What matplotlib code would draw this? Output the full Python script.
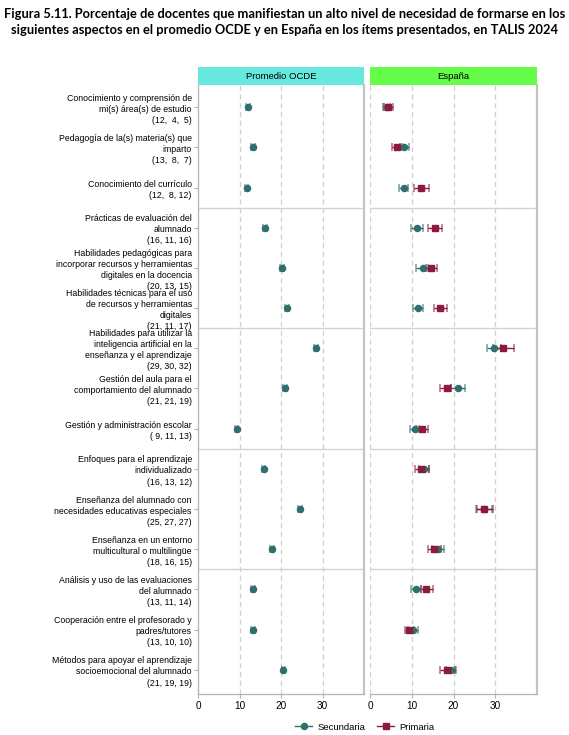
import matplotlib
matplotlib.use("Agg")
import matplotlib.pyplot as plt
from matplotlib.lines import Line2D
import numpy as np

# items (top to bottom) and the numbers shown under each label
items = [
    "Conocimiento y comprensión de\nmi(s) área(s) de estudio",
    "Pedagogía de la(s) materia(s) que\nimparto",
    "Conocimiento del currículo",
    "Prácticas de evaluación del\nalumnado",
    "Habilidades pedagógicas para\nincorporar recursos y herramientas\ndigitales en la docencia",
    "Habilidades técnicas para el uso\nde recursos y herramientas\ndigitales",
    "Habilidades para utilizar la\ninteligencia artificial en la\nenseñanza y el aprendizaje",
    "Gestión del aula para el\ncomportamiento del alumnado",
    "Gestión y administración escolar",
    "Enfoques para el aprendizaje\nindividualizado",
    "Enseñanza del alumnado con\nnecesidades educativas especiales",
    "Enseñanza en un entorno\nmulticultural o multilingüe",
    "Análisis y uso de las evaluaciones\ndel alumnado",
    "Cooperación entre el profesorado y\npadres/tutores",
    "Métodos para apoyar el aprendizaje\nsocioemocional del alumnado",
]
counts_a = [12, 13, 12, 16, 20, 21, 29, 21, 9, 16, 25, 18, 13, 13, 21]
counts_b = [4, 8, 8, 11, 13, 11, 30, 21, 11, 13, 27, 16, 11, 10, 19]
counts_c = [5, 7, 12, 16, 15, 17, 32, 19, 13, 12, 27, 15, 14, 10, 19]

# Promedio OCDE - secundaria only
ocde_sec = [12.0, 13.2, 11.7, 16.2, 20.2, 21.4, 28.5, 21.0, 9.3, 15.8, 24.5, 17.9, 13.2, 13.3, 20.6]
ocde_err = [0.45] * 15

# España
esp_sec = [4.0, 8.2, 8.1, 11.3, 12.6, 11.5, 29.7, 21.0, 10.7, 13.0, 27.3, 16.4, 11.0, 10.2, 19.3]
esp_sec_lo = [3.2, 7.1, 7.0, 9.9, 11.0, 10.2, 28.0, 19.3, 9.7, 11.7, 25.5, 14.9, 9.9, 9.1, 18.2]
esp_sec_hi = [4.8, 9.4, 9.2, 12.6, 13.8, 12.7, 31.4, 22.7, 11.8, 14.1, 29.2, 17.8, 12.1, 11.4, 20.6]
esp_pri = [4.3, 6.5, 12.2, 15.6, 14.6, 16.8, 31.9, 18.5, 12.5, 12.2, 27.4, 15.3, 13.4, 9.4, 18.5]
esp_pri_lo = [3.4, 5.3, 10.6, 13.9, 13.3, 15.3, 29.5, 16.7, 11.1, 10.8, 25.7, 13.8, 12.1, 8.4, 16.8]
esp_pri_hi = [5.6, 7.7, 14.2, 17.3, 16.1, 18.5, 34.5, 19.3, 14.0, 14.2, 29.4, 17.0, 15.1, 10.6, 20.3]

sec_color = "#2f6f6c"
pri_color = "#8c1a3c"
gray = "#b5b5b5"

plt.rcParams["font.family"] = ["Liberation Sans", "DejaVu Sans"]

labels = [f"{t}\n({a:2d}, {b:2d}, {c:2d})" for t, a, b, c in zip(items, counts_a, counts_b, counts_c)]
y = np.arange(len(items))

W, H = 569, 735
fig = plt.figure(figsize=(W / 100, H / 100), dpi=100)
top, bottom = 85, 694
ax1 = fig.add_axes([198 / W, 1 - bottom / H, 166 / W, (bottom - top) / H])
ax2 = fig.add_axes([370 / W, 1 - bottom / H, 167 / W, (bottom - top) / H])


def draw_eb(ax, x, lo, hi, color, marker):
    xerr = [np.array(x) - np.array(lo), np.array(hi) - np.array(x)]
    line, caps, bars = ax.errorbar(x, y, xerr=xerr, fmt=marker, color=color, ms=4.4,
                                   elinewidth=1.0, capsize=3.0, capthick=1.1, zorder=3)
    for c in caps:
        c.set_alpha(0.65)


for ax in (ax1, ax2):
    ax.set_xlim(0, 40)
    ax.set_ylim(14.6, -0.55)
    ax.set_xticks([0, 10, 20, 30])
    for gx in [0, 10, 20, 30]:
        ax.axvline(gx, color="#cfcfcf", lw=0.9, ls=(0, (4, 3)), zorder=1)
    for sy in [2.5, 5.5, 8.5, 11.5]:
        ax.axhline(sy, color="#d3d3d3", lw=1.0, zorder=1)
    ax.spines["top"].set_visible(False)
    for s in ["left", "bottom"]:
        ax.spines[s].set_color(gray)
        ax.spines[s].set_linewidth(0.9)
    ax.spines["right"].set_color("#c4c4c4")
    ax.spines["right"].set_linewidth(1.6)
    ax.tick_params(axis="x", length=3, width=0.8, color=gray, labelsize=7.2, pad=2)
    ax.tick_params(axis="y", length=3, width=0.8, color=gray, labelsize=6.3, pad=1.5)

ax1.set_yticks(y)
ax1.set_yticklabels(labels, linespacing=1.3)
ax2.set_yticks(y)
ax2.set_yticklabels([])
ax2.tick_params(axis="y", length=0)
ax2.spines["left"].set_visible(False)

ocde_lo = [v - e for v, e in zip(ocde_sec, ocde_err)]
ocde_hi = [v + e for v, e in zip(ocde_sec, ocde_err)]
draw_eb(ax1, ocde_sec, ocde_lo, ocde_hi, sec_color, "o")
draw_eb(ax2, esp_sec, esp_sec_lo, esp_sec_hi, sec_color, "o")
draw_eb(ax2, esp_pri, esp_pri_lo, esp_pri_hi, pri_color, "s")

# strips
for x0, w, txt, col in [(198, 166, "Promedio OCDE", "#66e8df"), (370, 167, "España", "#66fc4a")]:
    sax = fig.add_axes([x0 / W, 1 - top / H, w / W, 18 / H])
    sax.set_facecolor(col)
    sax.set_xticks([])
    sax.set_yticks([])
    for s in sax.spines.values():
        s.set_visible(False)
    sax.text(0.5, 0.45, txt, ha="center", va="center", fontsize=6.8, transform=sax.transAxes)

fig.text(0.5, 1 - 22 / H,
         "Figura 5.11. Porcentaje de docentes que manifiestan un alto nivel de necesidad de formarse en los\n"
         "siguientes aspectos en el promedio OCDE y en España en los ítems presentados, en TALIS 2024",
         ha="center", va="center", fontsize=9.3, fontweight="bold", family=["Lato", "DejaVu Sans"],
         linespacing=1.4)

handles = [
    Line2D([], [], color=sec_color, marker="o", ms=4.4, lw=1.0),
    Line2D([], [], color=pri_color, marker="s", ms=4.4, lw=1.0),
]
fig.legend(handles, ["Secundaria", "Primaria"], loc="center", bbox_to_anchor=(365 / W, 1 - 727 / H),
           ncol=2, frameon=False, fontsize=6.8, handlelength=1.8, columnspacing=1.2, handletextpad=0.6)

fig.savefig("out.png", dpi=100)
